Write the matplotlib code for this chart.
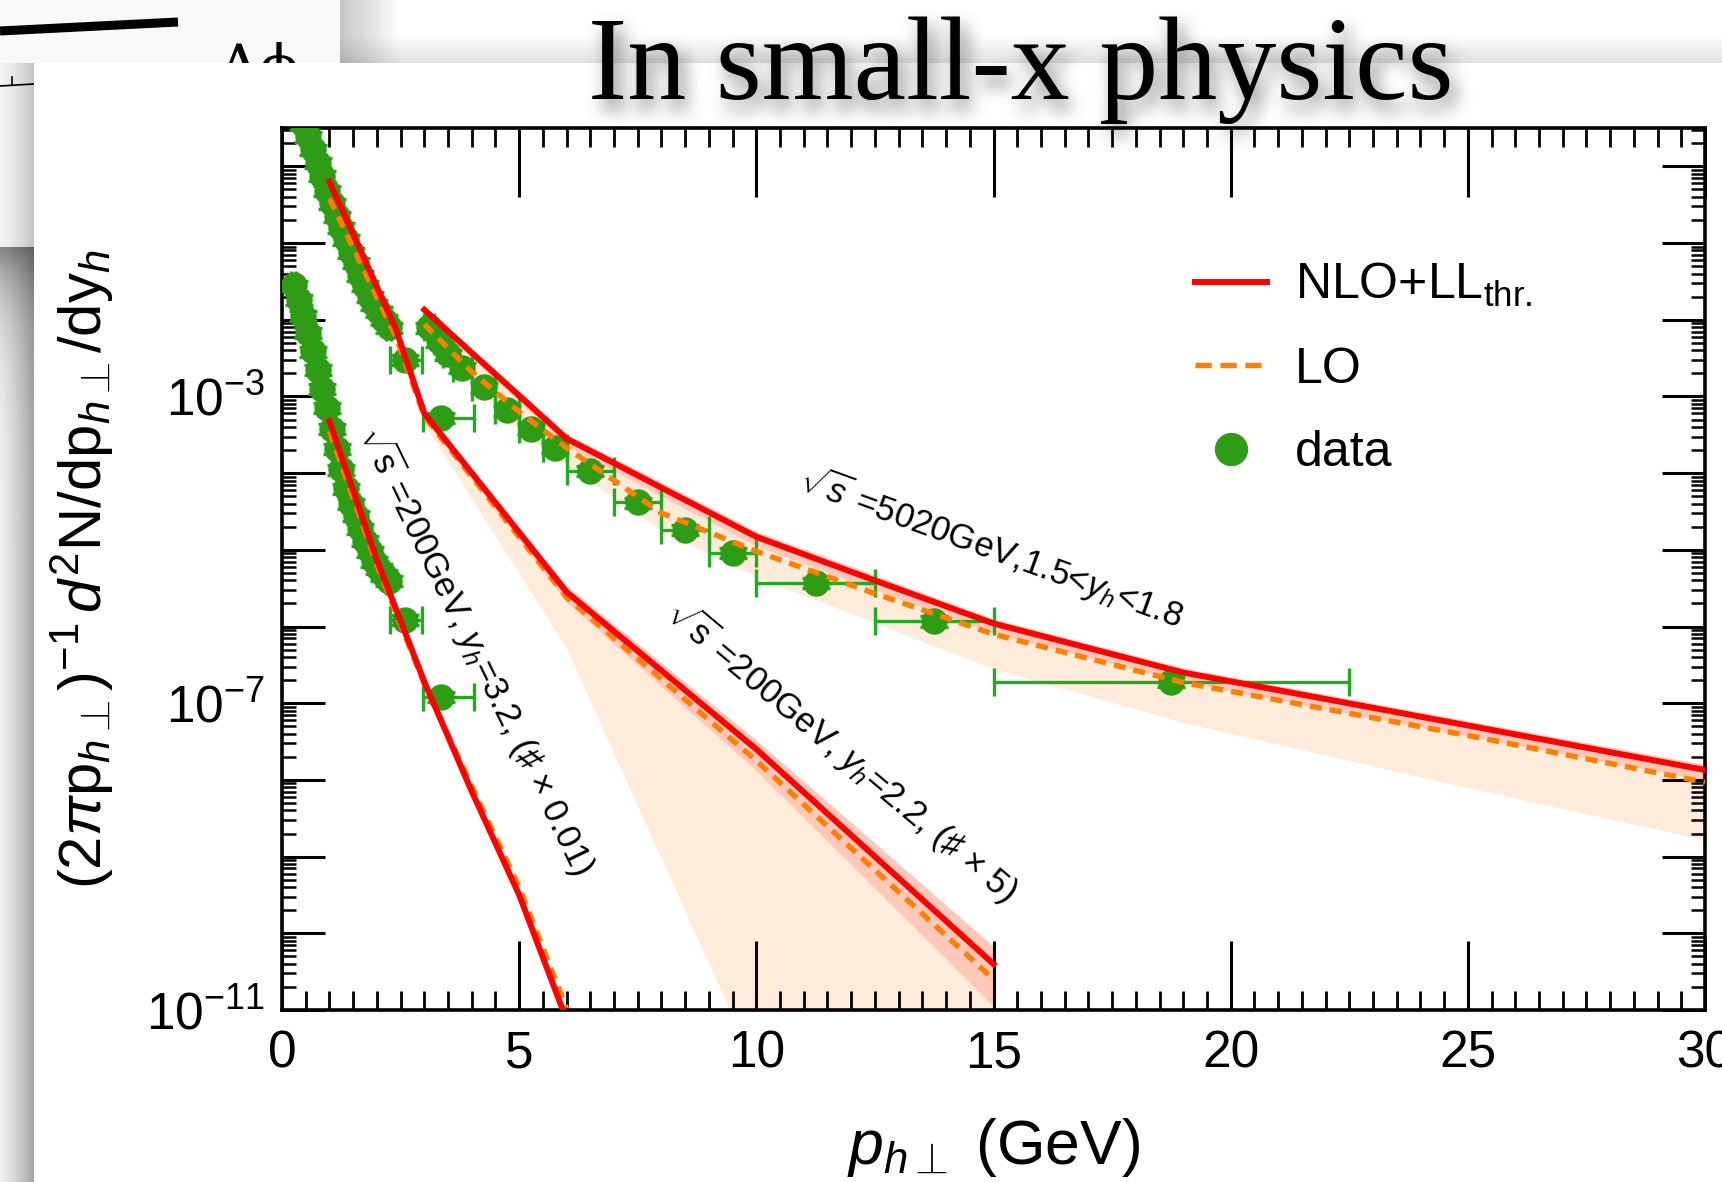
import numpy as np
import matplotlib
matplotlib.use('Agg')
import matplotlib.pyplot as plt
from matplotlib.figure import Figure
from matplotlib.backends.backend_agg import FigureCanvasAgg
from matplotlib.lines import Line2D
from matplotlib.patches import Rectangle
from matplotlib.ticker import MultipleLocator, FixedLocator, FuncFormatter, NullFormatter

W, H = 1722, 1182

plt.rcParams['font.family'] = ['Liberation Sans', 'DejaVu Sans']
plt.rcParams['mathtext.fontset'] = 'custom'
plt.rcParams['mathtext.rm'] = 'Liberation Sans'
plt.rcParams['mathtext.it'] = 'Liberation Sans:italic'
plt.rcParams['mathtext.bf'] = 'Liberation Sans:bold'

RED = '#ff0000'
ORANGE = '#ff7f00'
GREEN = '#2e9c14'
EGREEN = '#22aa22'

# theory curves, log10 of (2 pi pT)^-1 d2N/dpT/dy
# sqrt(s)=5020 GeV, 1.5<y<1.8
pt_5020 = [3, 4, 5, 6, 8, 10, 12.5, 15, 19, 25, 30]
nlo_5020 = [-1.87, -2.43, -2.99, -3.55, -4.19, -4.83, -5.40, -5.96, -6.60, -7.29, -7.87]
nlo_5020_hi = [-1.83, -2.38, -2.93, -3.49, -4.12, -4.76, -5.33, -5.90, -6.54, -7.23, -7.80]
nlo_5020_lo = [-1.93, -2.50, -3.07, -3.64, -4.30, -4.95, -5.52, -6.08, -6.72, -7.43, -8.00]
lo_5020 = [-2.06, -2.68, -3.20, -3.67, -4.52, -5.02, -5.57, -6.10, -6.73, -7.42, -8.03]
lo_5020_lo = [-2.15, -2.85, -3.45, -3.90, -4.75, -5.35, -5.95, -6.55, -7.25, -8.10, -8.78]

# sqrt(s)=200 GeV, y=2.2 (x5)
pt_22 = [1, 2.4, 3, 6, 10, 15]
nlo_22 = [-0.20, -2.12, -3.22, -5.55, -7.60, -10.40]
lo_22 = [-0.42, -2.22, -3.26, -5.62, -7.75, -10.60]
band_pt_22 = [3, 6, 10, 15]
nlo_22_hi = [-3.18, -5.47, -7.48, -10.17]
nlo_22_lo = [-3.28, -5.68, -7.88, -10.95]
lo_22_lo = [-3.36, -6.28, -11.76, -18.60]

# sqrt(s)=200 GeV, y=3.2 (x0.01)
pt_32 = [1, 2, 3, 4, 5, 6]
nlo_32 = [-3.32, -5.13, -6.72, -8.15, -9.50, -11.13]
lo_32 = [-3.45, -5.20, -6.75, -8.08, -9.40, -10.98]

# measured points (log10), with pT bin edges
data_5020_pt = [3.1, 3.3, 3.5, 3.8, 4.25, 4.75, 5.25, 5.75, 6.5, 7.5, 8.5, 9.5, 11.25, 13.75, 18.75]
data_5020_lo = [3.0, 3.2, 3.4, 3.6, 4.0, 4.5, 5.0, 5.5, 6.0, 7.0, 8.0, 9.0, 10.0, 12.5, 15.0]
data_5020_hi = [3.2, 3.4, 3.6, 4.0, 4.5, 5.0, 5.5, 6.0, 7.0, 8.0, 9.0, 10.0, 12.5, 15.0, 22.5]
data_5020 = [-2.10, -2.28, -2.45, -2.63, -2.88, -3.18, -3.42, -3.67, -3.97, -4.38, -4.74, -5.04, -5.43, -5.93, -6.72]

data_22_pt = [0.45, 0.55, 0.65, 0.75, 0.85, 0.95, 1.05, 1.15, 1.25, 1.35, 1.45, 1.55, 1.65,
              1.75, 1.85, 1.95, 2.05, 2.15, 2.25, 2.6, 3.35]
data_22_lo = [0.4, 0.5, 0.6, 0.7, 0.8, 0.9, 1.0, 1.1, 1.2, 1.3, 1.4, 1.5, 1.6,
              1.7, 1.8, 1.9, 2.0, 2.1, 2.2, 2.28, 2.97]
data_22_hi = [0.5, 0.6, 0.7, 0.8, 0.9, 1.0, 1.1, 1.2, 1.3, 1.4, 1.5, 1.6, 1.7,
              1.8, 1.9, 2.0, 2.1, 2.2, 2.3, 2.95, 4.05]
data_22 = [0.55, 0.39, 0.22, 0.05, -0.12, -0.32, -0.48, -0.65, -0.80, -0.95, -1.12, -1.26, -1.42,
           -1.56, -1.70, -1.80, -1.90, -2.00, -2.10, -2.52, -3.28]

data_32_pt = [0.25, 0.35, 0.45, 0.55, 0.65, 0.75, 0.85, 0.95, 1.05, 1.15, 1.25, 1.35, 1.45,
              1.55, 1.65, 1.75, 1.85, 1.95, 2.05, 2.15, 2.25, 2.6, 3.35]
data_32_lo = [0.2, 0.3, 0.4, 0.5, 0.6, 0.7, 0.8, 0.9, 1.0, 1.1, 1.2, 1.3, 1.4,
              1.5, 1.6, 1.7, 1.8, 1.9, 2.0, 2.1, 2.2, 2.28, 2.97]
data_32_hi = [0.3, 0.4, 0.5, 0.6, 0.7, 0.8, 0.9, 1.0, 1.1, 1.2, 1.3, 1.4, 1.5,
              1.6, 1.7, 1.8, 1.9, 2.0, 2.1, 2.2, 2.3, 2.95, 4.05]
data_32 = [-1.55, -1.74, -1.95, -2.17, -2.41, -2.65, -2.90, -3.15, -3.42, -3.68, -3.95, -4.20, -4.40,
           -4.56, -4.72, -4.88, -5.02, -5.15, -5.25, -5.33, -5.40, -5.91, -6.92]
rel_err = 0.15

legend_labels = [r'NLO+LL$_{\mathrm{thr.}}$', 'LO', 'data']
title = 'In small-x physics'


def p10(a):
    return 10.0 ** np.asarray(a, dtype=float)


def box(a, r, axis):
    pad = [(0, 0), (0, 0)]
    pad[axis] = (r + 1, r)
    c = np.cumsum(np.pad(a, pad), axis=axis)
    n = a.shape[axis]
    hi = np.take(c, np.arange(2 * r + 1, 2 * r + 1 + n), axis=axis)
    lo = np.take(c, np.arange(0, n), axis=axis)
    return (hi - lo) / (2 * r + 1)


def blur(a, r):
    for _ in range(3):
        a = box(a, r, 0)
        a = box(a, r, 1)
    return a


fig = plt.figure(figsize=(W / 100, H / 100), dpi=100)

# ---- slide backdrop ----
bga = fig.add_axes([0, 0, 1, 1])
bga.set_zorder(0)
img = np.ones((H, W, 3))
img[:247, :340] = 0.975
sh = np.clip(1 - (np.arange(340, 400) - 340) / 60.0, 0, 1)
img[:63, 340:400] -= 0.22 * sh[None, :, None]
vv = np.clip((np.arange(63) - 35) / 28.0, 0, 1)
img[:63, 340:] *= (1 - 0.12 * vv)[:, None, None]
hg = np.linspace(0, 1, 34)
img[63:247, :34] = (0.95 - 0.18 * hg ** 1.5)[None, :, None]
base = 0.94 - 0.29 * hg ** 1.3
fade = 1 - 0.45 * np.exp(-(np.arange(247, H) - 247) / 55.0)
img[247:, :34] = (base[None, :] * fade[:, None])[:, :, None]
bga.imshow(img, extent=(0, W, H, 0), aspect='auto', interpolation='bilinear')

# pieces of the card behind
bga.plot([0, 178], [31, 22], color='black', lw=6.5, solid_capstyle='butt', zorder=2)
bga.plot([0, 34], [86, 84], color='black', lw=1.2, zorder=2)
bga.plot([12, 12], [85, 77], color='black', lw=1.2, zorder=2)
bga.text(218, 86, 'Δϕ', fontsize=42, family='DejaVu Serif', va='baseline', zorder=2)

# plot card
bga.add_patch(Rectangle((34, 63), W, H, facecolor='white', edgecolor='none', zorder=3))

# title drop shadow
tkw = dict(ha='center', va='baseline', fontsize=85, family='Liberation Serif')
sf = Figure(figsize=(W / 100, H / 100), dpi=100)
FigureCanvasAgg(sf)
sf.text(1021 / W, 1 - 99 / H, title, color='black', **tkw)
sf.canvas.draw()
mask = 1 - np.asarray(sf.canvas.buffer_rgba())[:240, :, 0] / 255.0
mask = blur(mask, 8)
shadow = np.zeros((240, W, 4))
shadow[..., :3] = 0.3
shadow[..., 3] = np.clip(0.7 * mask, 0, 1)
dx, dy = 6, 10
bga.imshow(shadow, extent=(dx, W + dx, 240 + dy, dy), aspect='auto', zorder=4)
bga.set_xlim(0, W)
bga.set_ylim(H, 0)
bga.axis('off')

fig.text(1021 / W, 1 - 99 / H, title, color='black', zorder=10, **tkw)

# ---- spectrum plot ----
ax = fig.add_axes([282 / W, 1 - 1010 / H, (1705 - 282) / W, (1010 - 128) / H])
ax.set_zorder(2)
ax.set_facecolor('none')
ax.set_yscale('log')

# uncertainty bands
ax.fill_between(pt_5020, p10(lo_5020_lo), p10(nlo_5020_hi), color=ORANGE, alpha=0.15, lw=0)
ax.fill_between(pt_5020, p10(nlo_5020_lo), p10(nlo_5020_hi), color=RED, alpha=0.15, lw=0)
ax.fill_between(band_pt_22, p10(lo_22_lo), p10(nlo_22_hi), color=ORANGE, alpha=0.15, lw=0)
ax.fill_between(band_pt_22, p10(nlo_22_lo), p10(nlo_22_hi), color=RED, alpha=0.15, lw=0)

# data
ekw = dict(fmt='o', color=GREEN, ecolor=EGREEN, ms=18, elinewidth=2.4, capsize=10,
           capthick=2.4, zorder=3)
for xs, xl, xh, ys in [(data_5020_pt, data_5020_lo, data_5020_hi, data_5020),
                       (data_22_pt, data_22_lo, data_22_hi, data_22),
                       (data_32_pt, data_32_lo, data_32_hi, data_32)]:
    xs = np.asarray(xs)
    yv = p10(ys)
    ax.errorbar(xs, yv, xerr=[xs - np.asarray(xl), np.asarray(xh) - xs],
                yerr=rel_err * yv, **ekw)

# curves
dash = (0, (2.2, 1.5))
for pt, nlo, lo in [(pt_5020, nlo_5020, lo_5020), (pt_22, nlo_22, lo_22), (pt_32, nlo_32, lo_32)]:
    ax.plot(pt, p10(lo), color=ORANGE, lw=3.9, ls=dash, zorder=4)
    ax.plot(pt, p10(nlo), color=RED, lw=4.3, zorder=5)

# curve labels
akw = dict(fontsize=25, ha='center', va='center', rotation_mode='anchor', zorder=6)
ax.text(4.1, 10 ** -6.3, r'$\sqrt{\mathrm{s}}$ =200GeV, $y_h$=3.2, (♯ × 0.01)', rotation=-64, **akw)
ax.text(11.8, 10 ** -7.62, r'$\sqrt{\mathrm{s}}$ =200GeV, $y_h$=2.2, (♯ × 5)', rotation=-40, **akw)
ax.text(14.95, 10 ** -4.97, r'$\sqrt{s}$ =5020GeV,1.5<$y_h$<1.8', rotation=-20, **akw)

ax.set_xlim(0, 30)
ax.set_ylim(1e-11, 10 ** 0.5)

ax.xaxis.set_major_locator(MultipleLocator(5))
ax.xaxis.set_minor_locator(MultipleLocator(0.5))
ax.yaxis.set_major_locator(FixedLocator([10.0 ** e for e in range(-11, 1)]))
ax.yaxis.set_minor_locator(FixedLocator([m * 10.0 ** e for e in range(-11, 1) for m in range(2, 10)]))


def ylab(v, pos):
    e = int(round(np.log10(v)))
    return r'$10^{%d}$' % e if e in (-3, -7, -11) else ''


ax.yaxis.set_major_formatter(FuncFormatter(ylab))
ax.yaxis.set_minor_formatter(NullFormatter())

ax.tick_params(axis='both', which='both', direction='in', top=True, right=True, colors='black')
ax.tick_params(axis='x', which='major', length=50, width=2.2, labelsize=37, pad=14)
ax.tick_params(axis='x', which='minor', length=14, width=2.0)
ax.tick_params(axis='y', which='major', length=31, width=2.2, labelsize=37, pad=12)
ax.tick_params(axis='y', which='minor', length=10, width=1.8)
for s in ax.spines.values():
    s.set_linewidth(2.6)

ax.set_xlabel(r'$p_{h\bot}$ (GeV)', fontsize=45)
ax.xaxis.set_label_coords(0.5, -0.12)
ax.set_ylabel(r'$(2\pi \mathrm{p}_{h\bot})^{-1}\, d^2\mathrm{N/dp}_{h\bot}\mathrm{/dy}_h$', fontsize=43)
ax.yaxis.set_label_coords(-0.117, 0.5)

handles = [Line2D([], [], color=RED, lw=4.3),
           Line2D([], [], color=ORANGE, lw=3.9, ls=(0, (3.0, 1.6))),
           Line2D([], [], ls='none', marker='o', color=GREEN, ms=23)]
ax.legend(handles, legend_labels, loc='upper left', bbox_to_anchor=(0.6416, 0.849),
          frameon=False, fontsize=36, handlelength=1.45, handletextpad=0.55,
          labelspacing=0.75, borderaxespad=0, borderpad=0)

fig.savefig('out.png', dpi=100)
